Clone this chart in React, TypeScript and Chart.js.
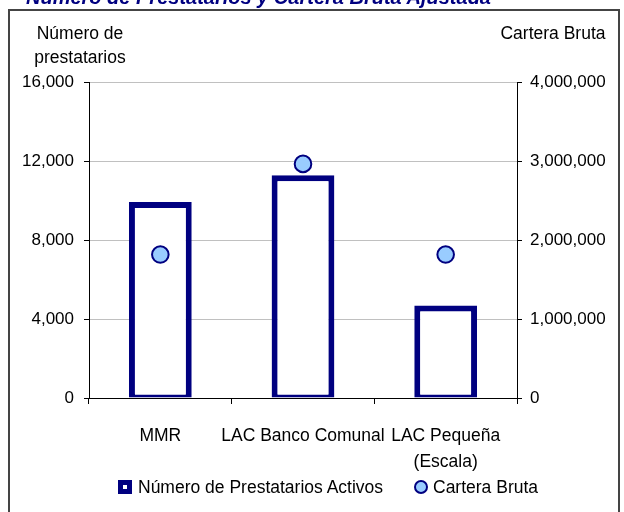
import React, { useEffect, useRef } from 'react';
import { Chart, registerables } from 'chart.js';

Chart.register(...registerables);

// ---- data ----
const categories: (string | string[])[] = ['MMR', 'LAC Banco Comunal', ['LAC Pequeña', '(Escala)']];
const prestatarios = [9950, 11300, 4700];
const carteraBruta = [1820000, 2970000, 1820000];
const leftTicks = [0, 4000, 8000, 12000, 16000];
const rightTicks = [0, 1000000, 2000000, 3000000, 4000000];
const titleText = 'Número de Prestatarios y Cartera Bruta Ajustada';
const leftAxisTitle = ['Número de', 'prestatarios'];
const rightAxisTitle = 'Cartera Bruta';
const seriesNames = ['Número de Prestatarios Activos', 'Cartera Bruta'];

const FONT = "'Liberation Sans', Arial, sans-serif";
const NAVY = '#000080';
const LIGHT = '#99ccff';

const fmt = (v: number | string) => Number(v).toLocaleString('en-US');

export default function App() {
  const ref = useRef<HTMLCanvasElement | null>(null);

  useEffect(() => {
    if (!ref.current) return;
    const chart = new Chart(ref.current, {
      type: 'bar',
      data: {
        labels: categories as any,
        datasets: [
          {
            type: 'line' as const,
            label: seriesNames[1],
            data: carteraBruta,
            yAxisID: 'y1',
            showLine: false,
            pointRadius: 8.3,
            pointBorderWidth: 2,
            pointBackgroundColor: LIGHT,
            pointBorderColor: NAVY,
            order: 1,
          } as any,
          {
            type: 'bar' as const,
            label: seriesNames[0],
            data: prestatarios,
            yAxisID: 'y',
            backgroundColor: '#ffffff',
            borderColor: NAVY,
            borderWidth: { top: 6, left: 6, right: 6, bottom: 3 },
            borderSkipped: false,
            barPercentage: 0.44,
            categoryPercentage: 1,
            order: 2,
          } as any,
        ],
      },
      options: {
        animation: false,
        responsive: false,
        maintainAspectRatio: false,
        layout: { padding: { top: 82.7, left: 0, right: 0, bottom: 0 } },
        plugins: {
          legend: { display: false },
          tooltip: { enabled: false },
          title: { display: false },
        },
        scales: {
          x: {
            type: 'category',
            offset: true,
            grid: {
              offset: true,
              drawOnChartArea: false,
              drawTicks: true,
              tickLength: 6,
              color: '#000',
              tickColor: '#000',
              lineWidth: 1,
            },
            border: { display: true, color: '#000', width: 1 },
            ticks: {
              color: '#000',
              font: { family: FONT, size: 17.5, lineHeight: 1.5 },
              padding: 19,
              maxRotation: 0,
              minRotation: 0,
              autoSkip: false,
            },
            afterFit: (s: any) => {
              s.height = 114;
            },
          },
          y: {
            type: 'linear',
            position: 'left',
            min: 0,
            max: 16000,
            afterBuildTicks: (s: any) => {
              s.ticks = leftTicks.map((v) => ({ value: v }));
            },
            grid: {
              color: (ctx: any) => (ctx.tick && ctx.tick.value === 0 ? '#000' : '#c0c0c0'),
              tickColor: '#000',
              tickLength: 5,
              lineWidth: 1,
            },
            border: { display: true, color: '#000', width: 1 },
            ticks: {
              color: '#000',
              font: { family: FONT, size: 17 },
              padding: 10,
              callback: (v: any) => fmt(v),
            },
            afterFit: (s: any) => {
              s.width = 89;
            },
          },
          y1: {
            type: 'linear',
            position: 'right',
            min: 0,
            max: 4000000,
            afterBuildTicks: (s: any) => {
              s.ticks = rightTicks.map((v) => ({ value: v }));
            },
            grid: {
              drawOnChartArea: false,
              color: '#000',
              tickColor: '#000',
              tickLength: 5,
              lineWidth: 1,
            },
            border: { display: true, color: '#000', width: 1 },
            ticks: {
              color: '#000',
              font: { family: FONT, size: 17 },
              padding: 8,
              callback: (v: any) => fmt(v),
            },
            afterFit: (s: any) => {
              s.width = 107;
            },
          },
        },
      } as any,
    });
    return () => chart.destroy();
  }, []);

  const textBase: React.CSSProperties = {
    position: 'absolute',
    fontFamily: FONT,
    fontSize: 17.5,
    color: '#000',
    whiteSpace: 'nowrap',
    lineHeight: '24px',
  };

  return (
    <div
      style={{
        position: 'fixed',
        left: 0,
        top: 0,
        width: 624,
        height: 512,
        overflow: 'hidden',
        background: '#fff',
      }}
    >
      <div
        style={{
          position: 'absolute',
          left: 8,
          top: 9,
          width: 612,
          height: 620,
          boxSizing: 'border-box',
          border: '2px solid #444',
        }}
      />
      <canvas
        ref={ref}
        width={624}
        height={512}
        style={{ position: 'absolute', left: 0, top: 0, width: 624, height: 512 }}
      />
      <div
        style={{
          position: 'absolute',
          left: 26,
          top: -13,
          fontFamily: FONT,
          fontSize: 20,
          fontWeight: 'bold',
          fontStyle: 'italic',
          color: NAVY,
          lineHeight: '20px',
          whiteSpace: 'nowrap',
        }}
      >
        {titleText}
      </div>
      <div style={{ ...textBase, left: 20, top: 21, width: 120, textAlign: 'center' }}>
        {leftAxisTitle.map((t, i) => (
          <div key={i}>{t}</div>
        ))}
      </div>
      <div style={{ ...textBase, left: 493, top: 21, width: 120, textAlign: 'center' }}>
        {rightAxisTitle}
      </div>
      <div
        style={{
          position: 'absolute',
          left: 118,
          top: 480,
          width: 14,
          height: 14,
          boxSizing: 'border-box',
          border: `5px solid ${NAVY}`,
          background: '#fff',
        }}
      />
      <div style={{ ...textBase, left: 138, top: 475 }}>{seriesNames[0]}</div>
      <div
        style={{
          position: 'absolute',
          left: 414,
          top: 480,
          width: 14,
          height: 14,
          boxSizing: 'border-box',
          borderRadius: '50%',
          border: `2px solid ${NAVY}`,
          background: LIGHT,
        }}
      />
      <div style={{ ...textBase, left: 433, top: 475 }}>{seriesNames[1]}</div>
    </div>
  );
}
